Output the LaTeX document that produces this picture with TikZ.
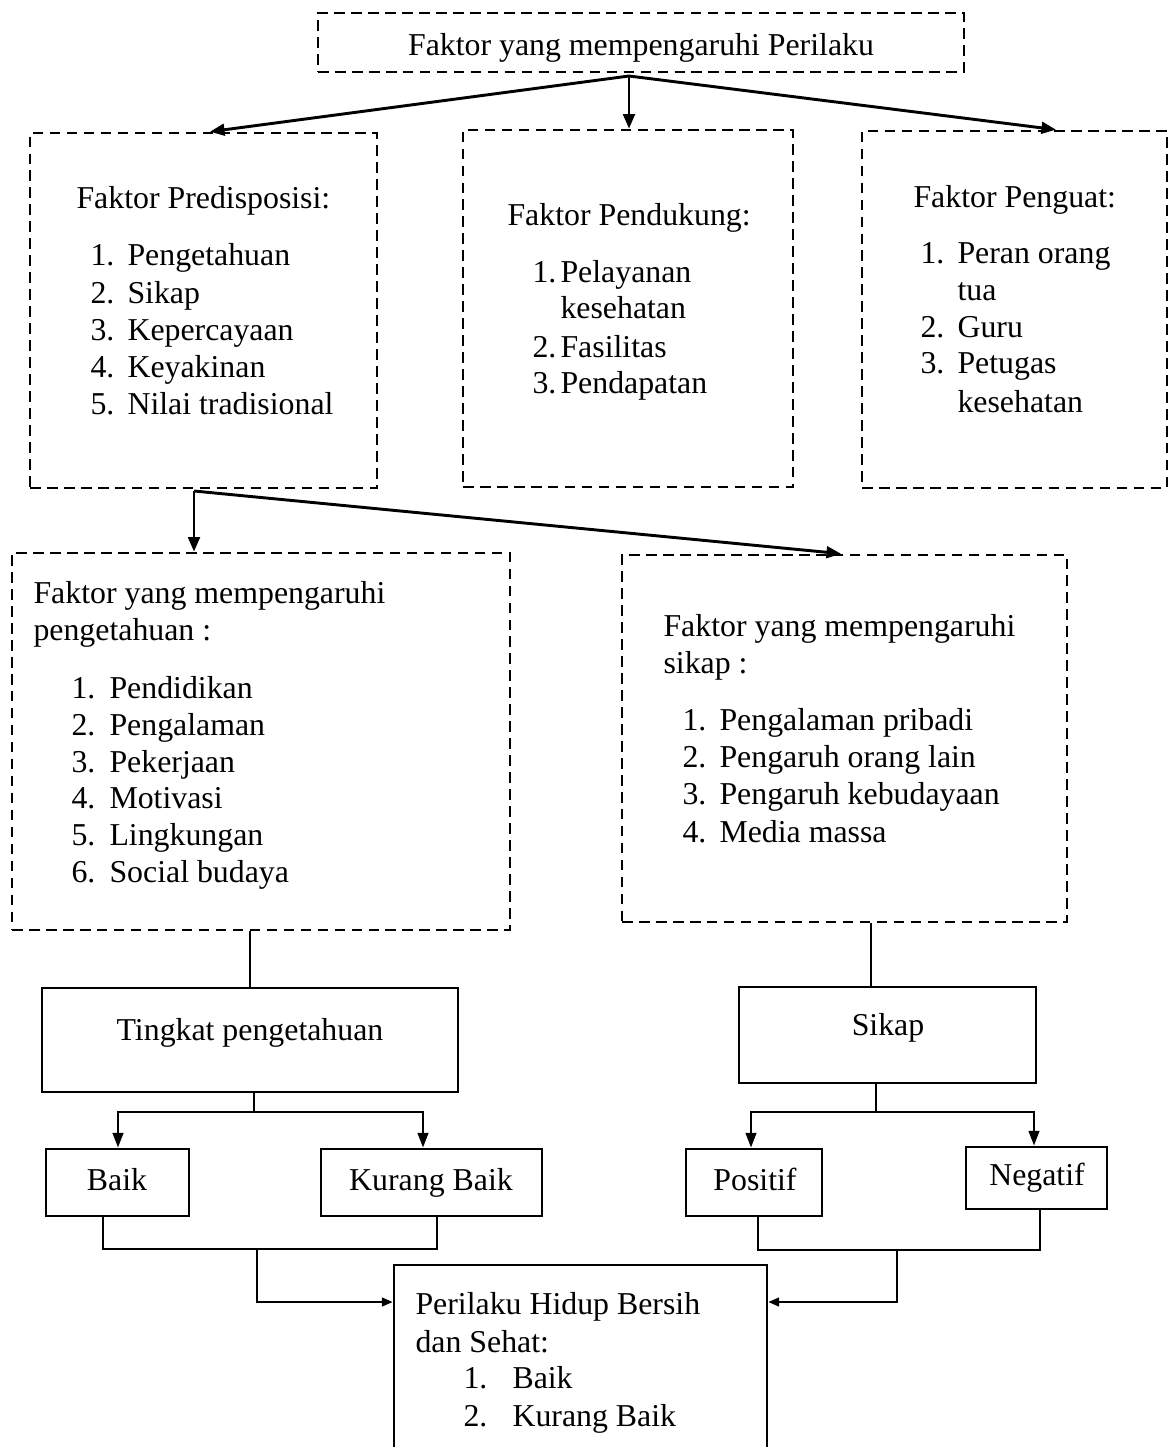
\documentclass[tikz,border=0pt]{standalone}
\usepackage{fontspec}
\setmainfont{Liberation Serif}
\usetikzlibrary{arrows.meta,fit}
\begin{document}
\begin{tikzpicture}[x=0.377pt,y=-0.377pt,
  dbox/.style={draw, dash pattern=on 4pt off 2.4pt, line width=1pt, inner sep=0pt, fit={#1}},
  sbox/.style={draw, line width=1.1pt, inner sep=0pt, fit={#1}},
  txt/.style={anchor=base west, inner sep=0pt, font=\fontsize{12}{14}\selectfont},
  ctxt/.style={anchor=base, inner sep=0pt, font=\fontsize{12}{14}\selectfont},
  arr/.style={-{Triangle[length=5.5pt,width=4.4pt]}, line width=1.1pt},
  arrb/.style={-{Triangle[length=5.5pt,width=4pt]}, line width=0.8pt},
  arrs/.style={-{Triangle[length=4pt,width=3.4pt]}, line width=0.45pt},
  thinl/.style={line width=0.45pt},
]
\path[use as bounding box] (0,0) rectangle (1172,1447);
\clip (0,0) rectangle (1172,1447);

% ---------- boxes ----------
\node[dbox={(318,13) (964,72)}] (top) {};
\node[dbox={(30,133) (377,488)}] (pred) {};
\node[dbox={(463,130) (793,487)}] (pend) {};
\node[dbox={(862,131) (1167,488)}] (peng) {};
\node[dbox={(12,553) (510,930)}] (know) {};
\node[dbox={(622,555) (1067,922)}] (sikf) {};
\node[sbox={(42,988) (458,1092)}] (ting) {};
\node[sbox={(739,987) (1036,1083)}] (sik) {};
\node[sbox={(46,1149) (189,1216)}] (baik) {};
\node[sbox={(321,1149) (542,1216)}] (kbaik) {};
\node[sbox={(686,1149) (822,1216)}] (pos) {};
\node[sbox={(966,1147) (1107,1209)}] (neg) {};
\node[sbox={(394,1265) (767,1480)}] (phbs) {};

% ---------- texts ----------
\node[ctxt] (ttop) at (641,55) {Faktor yang mempengaruhi Perilaku};

\node[txt] (tpred) at (76,208) {Faktor Predisposisi:};
\node[txt] (pn1) at (90,265) {1.};  \node[txt] (pi1) at (127,265) {Pengetahuan};
\node[txt] (pn2) at (90,303) {2.};  \node[txt] (pi2) at (127,303) {Sikap};
\node[txt] (pn3) at (90,340) {3.};  \node[txt] (pi3) at (127,340) {Kepercayaan};
\node[txt] (pn4) at (90,377) {4.};  \node[txt] (pi4) at (127,377) {Keyakinan};
\node[txt] (pn5) at (90,414) {5.};  \node[txt] (pi5) at (127,414) {Nilai tradisional};

\node[txt] (tpend) at (507,225) {Faktor Pendukung:};
\node[txt] (dn1) at (532,282) {1.};  \node[txt] (di1) at (560,282) {Pelayanan};
\node[txt] (di1b) at (560,318) {kesehatan};
\node[txt] (dn2) at (532,357) {2.};  \node[txt] (di2) at (560,357) {Fasilitas};
\node[txt] (dn3) at (532,393) {3.};  \node[txt] (di3) at (560,393) {Pendapatan};

\node[txt] (tpeng) at (913,207) {Faktor Penguat:};
\node[txt] (gn1) at (920,263) {1.};  \node[txt] (gi1) at (957,263) {Peran orang};
\node[txt] (gi1b) at (957,300) {tua};
\node[txt] (gn2) at (920,337) {2.};  \node[txt] (gi2) at (957,337) {Guru};
\node[txt] (gn3) at (920,373) {3.};  \node[txt] (gi3) at (957,373) {Petugas};
\node[txt] (gi3b) at (957,412) {kesehatan};

\node[txt] (tknow) at (33,603) {Faktor yang mempengaruhi};
\node[txt] (tknowb) at (33,640) {pengetahuan :};
\node[txt] (kn1) at (71,698) {1.};  \node[txt] (ki1) at (109,698) {Pendidikan};
\node[txt] (kn2) at (71,735) {2.};  \node[txt] (ki2) at (109,735) {Pengalaman};
\node[txt] (kn3) at (71,772) {3.};  \node[txt] (ki3) at (109,772) {Pekerjaan};
\node[txt] (kn4) at (71,808) {4.};  \node[txt] (ki4) at (109,808) {Motivasi};
\node[txt] (kn5) at (71,845) {5.};  \node[txt] (ki5) at (109,845) {Lingkungan};
\node[txt] (kn6) at (71,882) {6.};  \node[txt] (ki6) at (109,882) {Social budaya};

\node[txt] (tsikf) at (663,636) {Faktor yang mempengaruhi};
\node[txt] (tsikfb) at (663,673) {sikap :};
\node[txt] (sn1) at (682,730) {1.};  \node[txt] (si1) at (719,730) {Pengalaman pribadi};
\node[txt] (sn2) at (682,767) {2.};  \node[txt] (si2) at (719,767) {Pengaruh orang lain};
\node[txt] (sn3) at (682,804) {3.};  \node[txt] (si3) at (719,804) {Pengaruh kebudayaan};
\node[txt] (sn4) at (682,842) {4.};  \node[txt] (si4) at (719,842) {Media massa};

\node[ctxt] (tting) at (250,1040) {Tingkat pengetahuan};
\node[ctxt] (tsik) at (888,1035) {Sikap};
\node[ctxt] (tbaik) at (117,1190) {Baik};
\node[ctxt] (tkbaik) at (431,1190) {Kurang Baik};
\node[ctxt] (tpos) at (755,1190) {Positif};
\node[ctxt] (tneg) at (1037,1185) {Negatif};

\node[txt] (tphbs) at (415,1314) {Perilaku Hidup Bersih};
\node[txt] (tphbsb) at (415,1352) {dan Sehat:};
\node[txt] (hn1) at (463,1388) {1.};  \node[txt] (hi1) at (512,1388) {Baik};
\node[txt] (hn2) at (463,1426) {2.};  \node[txt] (hi2) at (512,1426) {Kurang Baik};

% ---------- connectors ----------
\coordinate (o1) at (629,76);
\draw[arr] (o1) -- (210,0 |- pred.north);
\draw[arr] (o1) -- (o1 |- pend.north);
\draw[arr] (o1) -- (1056,0 |- peng.north);

\coordinate (o2) at (194,491);
\draw[arr] (o2) -- (o2 |- know.north);
\draw[arr] (o2) -- (841,0 |- sikf.north);

\draw[thinl] (250,0 |- know.south) -- (250,0 |- ting.north);
\draw[thinl] (871,0 |- sikf.south) -- (871,0 |- sik.north);

\coordinate (j1) at (254,1112);
\draw[thinl] (254,0 |- ting.south) -- (j1);
\draw[arrb] (j1) -| (118,0 |- baik.north);
\draw[arrb] (j1) -| (423,0 |- kbaik.north);

\coordinate (j2) at (876,1112);
\draw[thinl] (876,0 |- sik.south) -- (j2);
\draw[arrb] (j2) -| (751,0 |- pos.north);
\draw[arrb] (j2) -| (1034,0 |- neg.north);

\coordinate (m1) at (257,1249);
\draw[thinl] (103,0 |- baik.south) |- (m1) -| (437,0 |- kbaik.south);
\draw[arrs] (m1) |- (phbs.west |- 0,1302);

\coordinate (m2) at (897,1250);
\draw[thinl] (758,0 |- pos.south) |- (m2) -| (1040,0 |- neg.south);
\draw[arrs] (m2) |- (phbs.east |- 0,1302);
\end{tikzpicture}
\end{document}
